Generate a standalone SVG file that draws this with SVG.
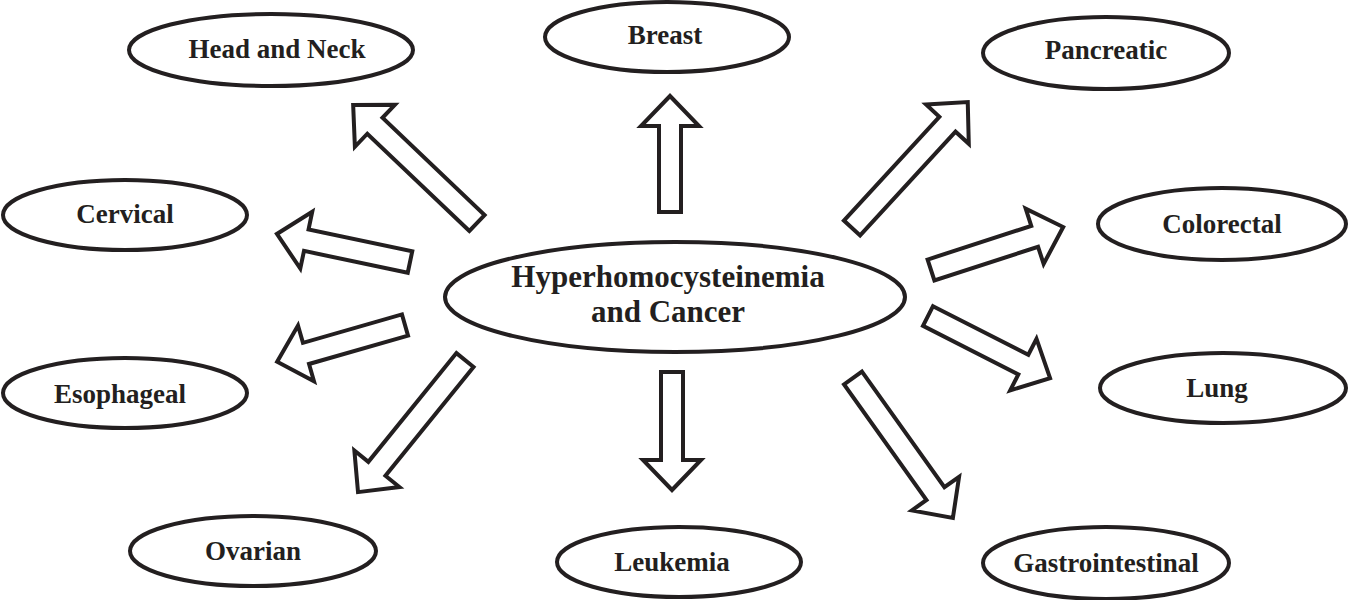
<svg xmlns="http://www.w3.org/2000/svg" width="1348" height="600" viewBox="0 0 1348 600">
<style>
.n ellipse{fill:#fff;stroke:#231f20;stroke-width:4}
.n text{font-family:"Liberation Serif","Times New Roman",serif;font-weight:bold;font-size:27px;fill:#231f20;text-anchor:middle}
#center text{font-size:31px}
.a{fill:#fff;stroke:#231f20;stroke-width:4;stroke-linejoin:miter}
</style>
<rect width="1348" height="600" fill="#fff"/>
<g id="connectors">
<polygon class="a" transform="translate(477,223) rotate(-136.4)" points="0,-11 141,-11 141,-29 171,0 141,29 141,11 0,11"/>
<polygon class="a" transform="translate(670,212) rotate(-90)" points="0,-11 86,-11 86,-29 116,0 86,29 86,11 0,11"/>
<polygon class="a" transform="translate(852,228) rotate(-47.4)" points="0,-11 141,-11 141,-29 171,0 141,29 141,11 0,11"/>
<polygon class="a" transform="translate(410,262) rotate(191.9)" points="0,-11 106,-11 106,-29 136,0 106,29 106,11 0,11"/>
<polygon class="a" transform="translate(931,270) rotate(-18)" points="0,-11 109,-11 109,-29 139,0 109,29 109,11 0,11"/>
<polygon class="a" transform="translate(405,325) rotate(164)" points="0,-11 103,-11 103,-29 133,0 103,29 103,11 0,11"/>
<polygon class="a" transform="translate(928,316) rotate(27)" points="0,-11 107,-11 107,-29 137,0 107,29 107,11 0,11"/>
<polygon class="a" transform="translate(465,360) rotate(129)" points="0,-11 140,-11 140,-29 170,0 140,29 140,11 0,11"/>
<polygon class="a" transform="translate(672,372) rotate(90)" points="0,-11 88,-11 88,-29 118,0 88,29 88,11 0,11"/>
<polygon class="a" transform="translate(853,378) rotate(54.5)" points="0,-11 142,-11 142,-29 172,0 142,29 142,11 0,11"/>
</g>
<g id="center" class="n"><ellipse cx="675" cy="297" rx="230" ry="55"/><text x="668" y="287">Hyperhomocysteinemia</text><text x="668" y="322">and Cancer</text></g>
<g id="headneck" class="n"><ellipse cx="271" cy="50" rx="142" ry="36"/><text x="277" y="58">Head and Neck</text></g>
<g id="breast" class="n"><ellipse cx="667" cy="37" rx="122" ry="35"/><text x="665" y="44">Breast</text></g>
<g id="pancreatic" class="n"><ellipse cx="1106" cy="53" rx="123" ry="36"/><text x="1106" y="59">Pancreatic</text></g>
<g id="cervical" class="n"><ellipse cx="125" cy="215" rx="122" ry="35"/><text x="125" y="223">Cervical</text></g>
<g id="colorectal" class="n"><ellipse cx="1222" cy="224" rx="124" ry="36"/><text x="1222" y="233">Colorectal</text></g>
<g id="esophageal" class="n"><ellipse cx="125" cy="393" rx="122" ry="35"/><text x="120" y="403">Esophageal</text></g>
<g id="lung" class="n"><ellipse cx="1223" cy="388" rx="123" ry="35"/><text x="1217" y="397">Lung</text></g>
<g id="ovarian" class="n"><ellipse cx="253" cy="551" rx="123" ry="35"/><text x="253" y="560">Ovarian</text></g>
<g id="leukemia" class="n"><ellipse cx="679" cy="562" rx="122" ry="35"/><text x="672" y="571">Leukemia</text></g>
<g id="gastro" class="n"><ellipse cx="1106" cy="563" rx="123" ry="36"/><text x="1106" y="572">Gastrointestinal</text></g>
</svg>
